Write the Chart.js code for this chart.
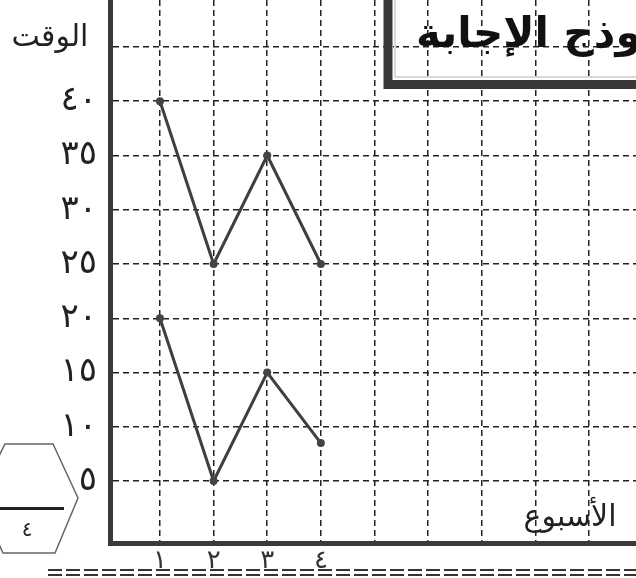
<!DOCTYPE html>
<html><head><meta charset="utf-8">
<script src="https://cdn.jsdelivr.net/npm/chart.js@4"></script>
<style>html,body{margin:0;padding:0;background:#fff;overflow:hidden}</style>
</head><body>
<canvas id="c" width="636" height="578"></canvas>
<script>
const weeks = [1, 2, 3, 4];
const weekLabels = ['١', '٢', '٣', '٤'];
const seriesUpper = [40, 25, 35, 25];
const seriesLower = [20, 5, 15, 8.5];
const yTickValues = [5, 10, 15, 20, 25, 30, 35, 40];
const yTickLabels = ['٥', '١٠', '١٥', '٢٠', '٢٥', '٣٠', '٣٥', '٤٠'];
const yGridValues = [5, 10, 15, 20, 25, 30, 35, 40, 45];
const xGridValues = [1, 2, 3, 4, 5, 6, 7, 8, 9];
const yAxisTitle = 'الوقت';
const xAxisTitle = 'الأسبوع';
const titleText = 'نموذج الإجابة';
const boxValue = '٤';

const toPoints = vals => weeks.map((w, i) => ({x: w, y: vals[i]}));
const makeDs = vals => ({
  data: toPoints(vals), borderColor: '#3f3f3f', borderWidth: 3,
  pointRadius: 2.5, pointBackgroundColor: '#444', pointBorderColor: '#444',
  tension: 0, fill: false, clip: false
});

const decor = {
  id: 'decor',
  afterDraw(chart) {
    const ctx = chart.ctx;
    ctx.save();
    // title box
    ctx.strokeStyle = '#d8d8d8'; ctx.lineWidth = 2;
    ctx.beginPath(); ctx.moveTo(395, 0); ctx.lineTo(395, 77); ctx.lineTo(636, 77); ctx.stroke();
    ctx.strokeStyle = '#383838'; ctx.lineWidth = 9;
    ctx.beginPath(); ctx.moveTo(388, 0); ctx.lineTo(388, 84.5); ctx.lineTo(640, 84.5); ctx.stroke();
    ctx.fillStyle = '#111';
    ctx.font = 'bold 42px "DejaVu Sans"';
    ctx.textBaseline = 'alphabetic';
    ctx.direction = 'rtl';
    ctx.textAlign = 'left';
    ctx.fillText(titleText, 416, 47);
    ctx.direction = 'ltr';
    // axis titles
    ctx.fillStyle = '#222';
    ctx.font = '30px "DejaVu Sans"';
    ctx.textAlign = 'center'; ctx.textBaseline = 'middle';
    ctx.fillText(yAxisTitle, 50, 38);
    ctx.fillText(xAxisTitle, 570, 518);
    // hexagon
    ctx.strokeStyle = '#666'; ctx.lineWidth = 1.5;
    ctx.beginPath();
    ctx.moveTo(-22, 498); ctx.lineTo(5, 444); ctx.lineTo(53, 444); ctx.lineTo(78, 498);
    ctx.lineTo(55, 553); ctx.lineTo(3, 553); ctx.lineTo(-22, 498);
    ctx.stroke();
    ctx.strokeStyle = '#222'; ctx.lineWidth = 3;
    ctx.beginPath(); ctx.moveTo(0, 508.5); ctx.lineTo(64, 508.5); ctx.stroke();
    ctx.fillStyle = '#222';
    ctx.font = '20px "DejaVu Sans"';
    ctx.fillText(boxValue, 27, 531);
    // double dashed line
    ctx.strokeStyle = '#333'; ctx.lineWidth = 2;
    ctx.setLineDash([14, 4]);
    [570, 575].forEach(y => { ctx.beginPath(); ctx.moveTo(48, y); ctx.lineTo(636, y); ctx.stroke(); });
    ctx.restore();
  }
};

new Chart(document.getElementById('c').getContext('2d'), {
  type: 'line',
  data: {datasets: [makeDs(seriesUpper), makeDs(seriesLower)]},
  options: {
    responsive: false, animation: false,
    layout: {padding: 0, autoPadding: false},
    plugins: {legend: {display: false}, tooltip: {enabled: false}},
    scales: {
      x: {
        type: 'linear', min: 0.068, max: 9.876,
        afterBuildTicks: s => { s.ticks = xGridValues.map(v => ({value: v})); },
        afterFit: s => { s.height = 35; s.paddingLeft = 0; s.paddingRight = 0; },
        grid: {color: '#222', lineWidth: 1.5, drawTicks: false},
        border: {display: true, color: '#3a3a3a', width: 5, dash: [6, 4]},
        ticks: {
          autoSkip: false, maxRotation: 0, padding: 3, color: '#333',
          font: {family: 'DejaVu Sans', size: 26},
          callback: v => { const i = weeks.indexOf(v); return i >= 0 ? weekLabels[i] : ''; }
        }
      },
      y: {
        min: -0.71, max: 49.33,
        afterBuildTicks: s => { s.ticks = yGridValues.map(v => ({value: v})); },
        afterFit: s => { s.width = 110; s.paddingTop = 0; s.paddingBottom = 0; },
        grid: {color: '#222', lineWidth: 1.5, drawTicks: false},
        border: {display: true, color: '#3a3a3a', width: 5, dash: [6, 4]},
        ticks: {
          autoSkip: false, padding: 13, color: '#222',
          font: {family: 'DejaVu Sans', size: 34},
          callback: v => { const i = yTickValues.indexOf(v); return i >= 0 ? yTickLabels[i] : ''; }
        }
      }
    }
  },
  plugins: [decor]
});
</script>
</body></html>
